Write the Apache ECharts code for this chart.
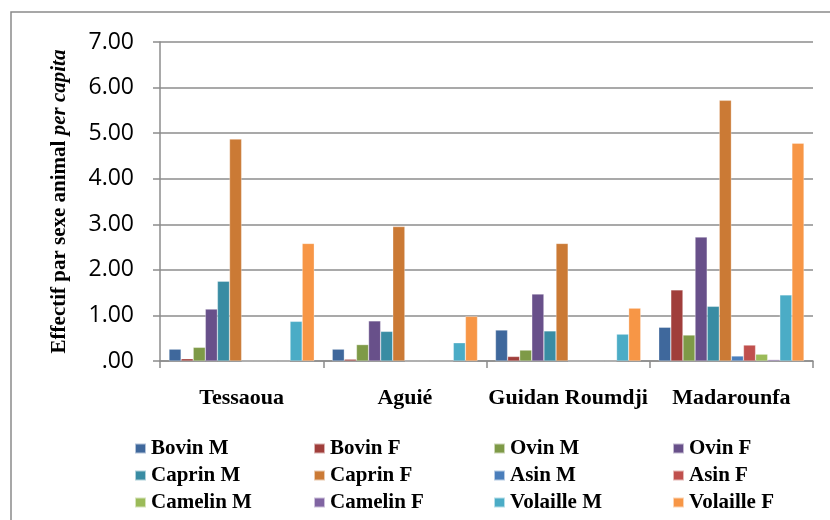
<!DOCTYPE html>
<html><head><meta charset="utf-8">
<script src="https://cdn.jsdelivr.net/npm/echarts@6/dist/echarts.min.js"></script>
<style>html,body{margin:0;padding:0;background:#fff}#c{width:830px;height:520px}</style>
</head><body><div id="c"></div>
<script>
const categories = ['Tessaoua', 'Aguié', 'Guidan Roumdji', 'Madarounfa'];
const seriesNames = ['Bovin M','Bovin F','Ovin M','Ovin F','Caprin M','Caprin F','Asin M','Asin F','Camelin M','Camelin F','Volaille M','Volaille F'];
const bovinM = [0.26, 0.26, 0.68, 0.74];
const bovinF = [0.05, 0.04, 0.10, 1.56];
const ovinM = [0.30, 0.36, 0.24, 0.57];
const ovinF = [1.14, 0.88, 1.47, 2.72];
const caprinM = [1.75, 0.65, 0.66, 1.20];
const caprinF = [4.87, 2.95, 2.58, 5.72];
const asinM = [0, 0, 0, 0.11];
const asinF = [0, 0, 0, 0.35];
const camelinM = [0, 0, 0, 0.15];
const camelinF = [0, 0, 0, 0.03];
const volailleM = [0.87, 0.40, 0.59, 1.45];
const volailleF = [2.58, 0.98, 1.16, 4.78];
const yTicks = [0, 1, 2, 3, 4, 5, 6, 7];

const values = [bovinM,bovinF,ovinM,ovinF,caprinM,caprinF,asinM,asinF,camelinM,camelinF,volailleM,volailleF];
const colors = ['#3F689C','#A03E3B','#7E9A47','#68508A','#398CA3','#CB7A35','#4A7EBB','#C0504D','#9BBB59','#8064A2','#4BACC6','#F79646'];
const serif = '"Liberation Serif", "DejaVu Serif", serif';

const chart = echarts.init(document.getElementById('c'));
const legendCols = [0,1,2,3].map(c => ({
  orient: 'vertical',
  left: [134, 313, 493, 672][c],
  top: 438,
  padding: 0,
  itemWidth: 11, itemHeight: 10, itemGap: 6,
  icon: 'rect',
  data: [seriesNames[c], seriesNames[c+4], seriesNames[c+8]],
  textStyle: {fontFamily: serif, fontWeight: 'bold', fontSize: 21, lineHeight: 21, color: '#000'}
}));
chart.setOption({
  animation: false,
  color: colors,
  graphic: [{type: 'rect', shape: {x: 11, y: 12, width: 830, height: 520}, style: {fill: 'none', stroke: '#8a8a8a', lineWidth: 1.5}}],
  legend: legendCols,
  grid: {left: 160, right: 17, top: 42, bottom: 159},
  xAxis: {
    type: 'category', data: categories,
    axisLine: {lineStyle: {color: '#8c8c8c', width: 1.5}},
    axisTick: {show: true, interval: 0, length: 7, lineStyle: {color: '#8c8c8c', width: 1.5}},
    axisLabel: {interval: 0, margin: 26, fontFamily: serif, fontWeight: 'bold', fontSize: 22, color: '#000'}
  },
  yAxis: {
    type: 'value', min: yTicks[0], max: yTicks[yTicks.length - 1], interval: 1,
    name: '{b|Effectif par sexe animal }{i|per capita}',
    nameLocation: 'middle', nameGap: 90, nameRotate: 90,
    nameTextStyle: {rich: {
      b: {fontFamily: serif, fontWeight: 'bold', fontSize: 21, color: '#000'},
      i: {fontFamily: serif, fontWeight: 'bold', fontStyle: 'italic', fontSize: 21, color: '#000'}
    }},
    axisLine: {show: true, lineStyle: {color: '#8c8c8c', width: 1.5}},
    axisTick: {show: true, length: 7, lineStyle: {color: '#8c8c8c', width: 1.5}},
    splitLine: {lineStyle: {color: '#8c8c8c', width: 1.5}},
    axisLabel: {margin: 26, fontFamily: '"Open Sans", "Liberation Sans", sans-serif', fontSize: 23, color: '#000',
      formatter: v => v === 0 ? '.00' : v.toFixed(2)}
  },
  series: seriesNames.map((n, i) => ({
    name: n, type: 'bar', data: values[i],
    barGap: '0%', barCategoryGap: '11%',
    itemStyle: {borderColor: 'rgba(255,255,255,0.6)', borderWidth: 0.5}
  }))
});
</script></body></html>
